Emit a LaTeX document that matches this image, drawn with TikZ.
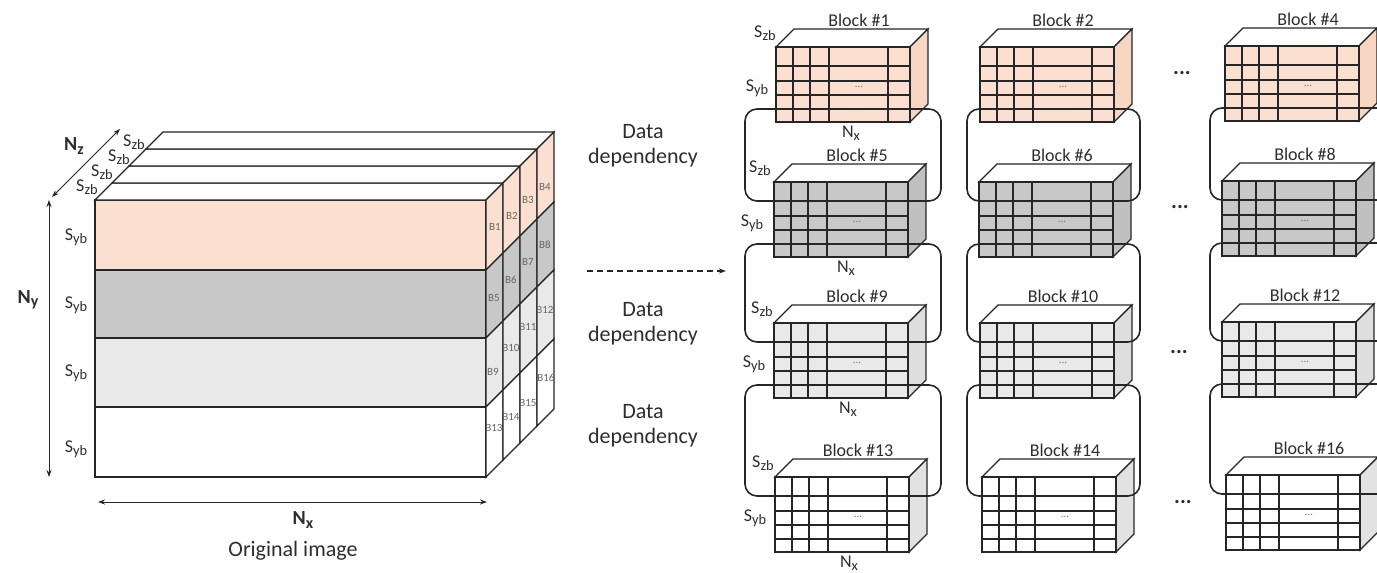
\documentclass[tikz,border=0pt]{standalone}
\usepackage{fontspec}
\setmainfont{Carlito}
\usetikzlibrary{arrows.meta}

\definecolor{peach}{RGB}{251,223,208}
\definecolor{peachside}{RGB}{247,214,196}
\definecolor{midgray}{RGB}{200,200,200}
\definecolor{midgrayside}{RGB}{192,192,192}
\definecolor{palegray}{RGB}{233,233,233}
\definecolor{palegrayside}{RGB}{222,222,222}
\definecolor{whiteside}{RGB}{226,226,226}
\definecolor{ink}{RGB}{45,45,45}

% subscript set lower and larger than \textsubscript
\newcommand\lowsub[1]{\raisebox{-0.32ex}{\scalebox{0.8}{#1}}}

\tikzset{
  txt/.style={text=ink, inner sep=0pt},
  blocktitle/.style={txt, font=\fontsize{18}{20}\selectfont},
  deptext/.style={txt, font=\fontsize{22}{25}\selectfont, align=center},
  dimbold/.style={txt, font=\fontsize{20}{22}\selectfont\bfseries},
  dimlab/.style={txt, font=\fontsize{18}{20}\selectfont},
  smalllab/.style={text=black!60, inner sep=0pt, font=\fontsize{11}{12}\selectfont},
  tinydots/.style={text=black!55, inner sep=0pt, font=\fontsize{11}{12}\selectfont},
  bigdots/.style={txt, font=\fontsize{22}{24}\selectfont\bfseries},
  outline/.style={draw=black!85, line width=1.3pt},
  gridline/.style={draw=black!85, line width=1.1pt},
  deploop/.style={draw=black!85, line width=1.6pt, rounded corners=12pt},
  dimarrow/.style={draw=black!85, line width=1pt,
    {Stealth[length=7pt,width=5pt]}-{Stealth[length=7pt,width=5pt]}},
  flowarrow/.style={draw=black!85, line width=1.2pt, dash pattern=on 6pt off 4pt,
    -{Stealth[length=7pt,width=5pt]}},
}

% One block: #1 name, #2 x, #3 y (front top-left), #4 front fill, #5 side fill, #6 title
\newcommand\cubeblock[6]{%
  \begin{scope}[shift={(#2,#3)}]
    \filldraw[outline, fill=white] (0,0) -- (18,-18) -- (152,-18) -- (134,0) -- cycle;
    \filldraw[outline, fill=#5] (134,0) -- (152,-18) -- (152,57) -- (134,75) -- cycle;
    \fill[#4] (0,0) rectangle (134,75);
    \foreach \gx in {17,34,53,112} \draw[gridline] (\gx,0) -- (\gx,75);
    \foreach \gy in {19,34,48,62} \draw[gridline] (0,\gy) -- (134,\gy);
    \draw[outline] (0,0) rectangle (134,75);
    \node[tinydots] (#1-dots) at (83,40) {...};
    \node[blocktitle] (#1-title) at (83,-27) {#6};
  \end{scope}}

% Size labels beside a block of the first column: #1 name, #2 x, #3 y
\newcommand\blocksizes[3]{%
  \node[dimlab] (#1-szb) at (#2-12,#3-14) {S\lowsub{zb}};
  \node[dimlab] (#1-syb) at (#2-20,#3+41) {S\lowsub{yb}};
  \node[dimlab] (#1-nx) at (#2+74,#3+86) {N\lowsub{x}};}

\begin{document}
\begin{tikzpicture}[x=1pt, y=-1pt]
\path[use as bounding box, clip] (0,0) rectangle (1377,573);

% ---------- original image volume ----------
\fill[peach]    (95,200) rectangle (486,270);
\fill[midgray]  (95,270) rectangle (486,338);
\fill[palegray] (95,338) rectangle (486,407);
\fill[white]    (95,407) rectangle (486,477);
\foreach \yy in {270,338,407} \draw[outline] (95,\yy) -- (486,\yy);
\draw[outline] (95,200) rectangle (486,477);

% top face, one slice per depth step
\foreach \k in {0,1,2,3}
  \filldraw[outline, fill=white]
    ({95+17*\k},{200-17*\k}) -- ({112+17*\k},{183-17*\k}) --
    ({503+17*\k},{183-17*\k}) -- ({486+17*\k},{200-17*\k}) -- cycle;

% side face, one cell per layer and depth step
\foreach \t/\b/\c in {200/270/peach, 270/338/midgray, 338/407/palegray, 407/477/white}
  \foreach \k in {0,1,2,3}
    \filldraw[outline, fill=\c]
      ({486+17*\k},{\t-17*\k}) -- ({503+17*\k},{\t-17-17*\k}) --
      ({503+17*\k},{\b-17-17*\k}) -- ({486+17*\k},{\b-17*\k}) -- cycle;

% block labels on the side face
\foreach \n/\px/\py in {1/495/227, 2/512/216, 3/528/200, 4/545/187,
                        5/494/298, 6/511/280, 7/528/262, 8/545/245,
                        9/493/372, 10/511/348, 11/528/327, 12/545/310,
                        13/494/428, 14/511/417, 15/528/403, 16/546/378}
  \node[smalllab] (side-b\n) at (\px,\py) {B\n};

% dimension arrows
\coordinate (nz-a) at (52,197);
\coordinate (nz-b) at (120,129);
\draw[dimarrow] (nz-a) -- (nz-b);
\coordinate (ny-a) at (49,200);
\coordinate (ny-b) at (49,477);
\draw[dimarrow] (ny-a) -- (ny-b);
\coordinate (nx-a) at (98,502);
\coordinate (nx-b) at (487,502);
\draw[dimarrow] (nx-a) -- (nx-b);

\node[dimbold] (nz) at (74,146) {N\lowsub{z}};
\node[dimbold] (ny) at (28,300) {N\lowsub{y}};
\node[dimbold] (nx) at (303,520) {N\lowsub{x}};
\node[txt, font=\fontsize{22}{25}\selectfont] (orig) at (293,551) {Original image};

\foreach \n/\px/\py in {1/134/142, 2/119/157, 3/102/172, 4/87/187}
  \node[dimlab] (szb\n) at (\px,\py) {S\lowsub{zb}};
\foreach \n/\py in {1/237, 2/305, 3/373, 4/449}
  \node[dimlab] (syb\n) at (76,\py) {S\lowsub{yb}};

% ---------- middle ----------
\node[deptext] (dep1) at (643,146) {Data\\dependency};
\node[deptext] (dep2) at (643,324) {Data\\dependency};
\node[deptext] (dep3) at (643,426) {Data\\dependency};
\coordinate (split-from) at (587,271);
\coordinate (split-to) at (726,271);
\draw[flowarrow] (split-from) -- (split-to);

% ---------- blocks ----------
\cubeblock{blk1}{776}{47}{peach}{peachside}{Block \#1}
\cubeblock{blk2}{980}{47}{peach}{peachside}{Block \#2}
\cubeblock{blk4}{1225}{46}{peach}{peachside}{Block \#4}
\cubeblock{blk5}{774}{182}{midgray}{midgrayside}{Block \#5}
\cubeblock{blk6}{979}{182}{midgray}{midgrayside}{Block \#6}
\cubeblock{blk8}{1222}{181}{midgray}{midgrayside}{Block \#8}
\cubeblock{blk9}{774}{323}{palegray}{palegrayside}{Block \#9}
\cubeblock{blk10}{980}{323}{palegray}{palegrayside}{Block \#10}
\cubeblock{blk12}{1222}{322}{palegray}{palegrayside}{Block \#12}
\cubeblock{blk13}{775}{477}{white}{whiteside}{Block \#13}
\cubeblock{blk14}{982}{477}{white}{whiteside}{Block \#14}
\cubeblock{blk16}{1226}{475}{white}{whiteside}{Block \#16}

\blocksizes{blk1}{777}{47}
\blocksizes{blk5}{772}{182}
\blocksizes{blk9}{774}{323}
\blocksizes{blk13}{775}{477}

% elided columns
\node[bigdots] (more1) at (1182,73) {...};
\node[bigdots] (more2) at (1180,207) {...};
\node[bigdots] (more3) at (1179,352) {...};
\node[bigdots] (more4) at (1183,502) {...};

% data dependency regions, aligned with the grid rows they overlap
\foreach \xa/\xb/\ya/\yb in {745/941/109/201, 745/941/244/342, 745/941/385/496,
                             967/1140/109/201, 967/1140/244/342, 967/1140/385/496,
                             1210/1430/108/200, 1210/1430/243/341, 1210/1430/384/494}
  \draw[deploop] (\xa,\ya) rectangle (\xb,\yb);
\end{tikzpicture}
\end{document}
